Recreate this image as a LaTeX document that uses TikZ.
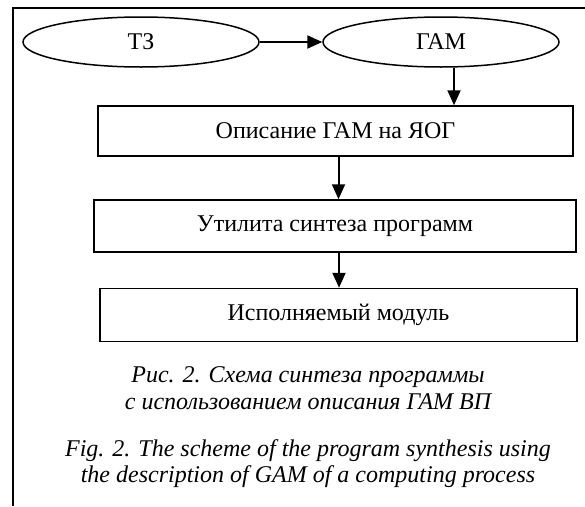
\documentclass[tikz,border=0pt]{standalone}
\usepackage{fontspec}
\setmainfont{Liberation Serif}
\usetikzlibrary{arrows.meta,shapes.geometric}

\begin{document}
\begin{tikzpicture}[x=1pt,y=-1pt,
  arr/.style={line width=2pt,-{Triangle[length=15pt,width=13pt]}},
  oval/.style={ellipse,draw,line width=1.5pt,minimum width=236pt,minimum height=50pt,
    inner sep=0pt,font=\fontsize{24}{28}\selectfont},
  blok/.style={rectangle,draw,line width=1.5pt,minimum height=50pt,inner sep=0pt,
    font=\fontsize{24}{28}\selectfont},
  capt/.style={align=center,font=\fontsize{24}{26.5}\selectfont\itshape}]
  \useasboundingbox (0,0) rectangle (585,506);
  \draw[line width=2.5pt] (13,506) -- (13,8) -- (585,8);
  \node[oval] (tz) at (141,42) {ТЗ};
  \node[oval] (gam) at (441,42) {ГАМ};
  \node[blok,minimum width=475pt] (opis) at (335.5,131) {Описание ГАМ на ЯОГ};
  \node[blok,minimum width=482pt,minimum height=52pt] (util) at (335,226) {Утилита синтеза программ};
  \node[blok,minimum width=477pt,minimum height=53pt] (modul) at (338.5,315) {Исполняемый модуль};
  \node[capt] (ru) at (308,388) {Рис. 2. Схема синтеза программы\\с использованием описания ГАМ ВП};
  \node[capt] (en) at (308,463.5) {Fig. 2. The scheme of the program synthesis using\\the description of GAM of a computing process};
  \draw[arr] (tz) -- (gam);
  \draw[arr] ([xshift=13pt]gam.south) -- ([xshift=13pt]gam.south |- opis.north);
  \draw[arr] (opis.south) ++(3pt,0) coordinate (a1) -- (a1 |- util.north);
  \draw[arr] (util.south) ++(4pt,0) coordinate (a2) -- (a2 |- modul.north);
\end{tikzpicture}
\end{document}
